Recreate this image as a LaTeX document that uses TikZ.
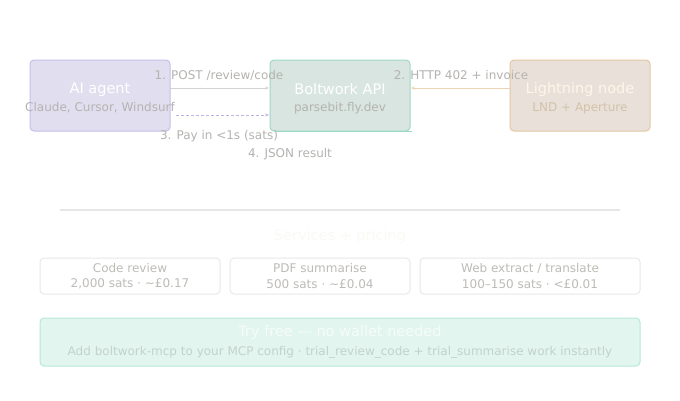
\documentclass[tikz,border=0pt]{standalone}
\usepackage{fontspec}
\setmainfont{DejaVu Sans}
\usetikzlibrary{arrows.meta}
\definecolor{agentfill}{HTML}{E1DEEF}
\definecolor{agentdraw}{HTML}{C6BEEA}
\definecolor{apifill}{HTML}{D9E5E1}
\definecolor{apidraw}{HTML}{9ED9C2}
\definecolor{lnfill}{HTML}{E9E1D9}
\definecolor{lndraw}{HTML}{E2C9A2}
\definecolor{lntitle}{HTML}{FFF6EA}
\definecolor{lnsub}{HTML}{D2C2A8}
\definecolor{lbl}{HTML}{B5B3B0}
\definecolor{divider}{HTML}{E6E6E6}
\definecolor{svcdraw}{HTML}{E8E8E8}
\definecolor{svctext}{HTML}{BDBCB8}
\definecolor{svchead}{HTML}{FAFAF5}
\definecolor{tryfill}{HTML}{E2F5EE}
\definecolor{trydraw}{HTML}{B5EAD5}
\definecolor{trytext}{HTML}{C3D3CC}
\definecolor{arrgray}{HTML}{D3D3D3}
\definecolor{arrorange}{HTML}{EBD3B3}
\definecolor{arrpurple}{HTML}{BDB4E4}
\tikzset{
  bigbox/.style={rounded corners=4pt, line width=1pt},
  title/.style={font=\fontsize{14.5}{17}\selectfont, text=white},
  sub/.style={font=\fontsize{12}{14}\selectfont, text=lbl},
  lab/.style={font=\fontsize{12}{14}\selectfont, text=lbl},
  svc/.style={rounded corners=4pt, draw=svcdraw, fill=white, line width=1pt},
  svct/.style={font=\fontsize{12}{14}\selectfont, text=svctext},
  arr/.style={-{Stealth[length=4pt,width=3pt]}, line width=1pt},
}
\begin{document}
\begin{tikzpicture}[x=1pt,y=-1pt]
\useasboundingbox[fill=white] (0,0) rectangle (680,400);
% main boxes
\draw[bigbox, fill=agentfill, draw=agentdraw] (30,60) rectangle (170,131);
\node[title] (agentT) at (100,89.5) {AI agent};
\node[sub] (agentS) at (100,108) {Claude, Cursor, Windsurf};

\draw[bigbox, fill=apifill, draw=apidraw] (270,60) rectangle (410,131);
\node[title] (apiT) at (340,89.5) {Boltwork API};
\node[sub] (apiS) at (340,108) {parsebit.fly.dev};

\draw[bigbox, fill=lnfill, draw=lndraw] (510,60) rectangle (650,131);
\node[title, text=lntitle] (lnT) at (580,89.5) {Lightning node};
\node[sub, text=lnsub] (lnS) at (580,108) {LND + Aperture};

% connectors
\coordinate (a1s) at (170,88);
\coordinate (a1e) at (269,88);
\draw[arr, draw=arrgray] (a1s) -- (a1e);
\coordinate (a2s) at (510,88);
\coordinate (a2e) at (411,88);
\draw[arr, draw=arrorange] (a2s) -- (a2e);
\coordinate (a3s) at (176,115);
\coordinate (a3e) at (269,115);
\draw[arr, draw=arrpurple, dash pattern=on 3pt off 2pt] (a3s) -- (a3e);
\coordinate (a4s) at (276,131);
\coordinate (a4e) at (412,131);
\draw[draw=apidraw, line width=1pt] (a4s) -- (a4e);

\node[lab] (l1) at (219,75.5) {1. POST /review/code};
\node[lab] (l2) at (461,75.5) {2. HTTP 402 + invoice};
\node[lab] (l3) at (219,136.5) {3. Pay in <1s (sats)};
\node[lab] (l4) at (290,154.5) {4. JSON result};

% divider
\coordinate (d1) at (60,210);
\coordinate (d2) at (620,210);
\draw[divider, line width=1.6pt] (d1) -- (d2);
\node[font=\fontsize{14.5}{17}\selectfont, text=svchead] (svch) at (340,236) {Services + pricing};

% services
\draw[svc] (40,258) rectangle (220,294);
\node[svct] (s1a) at (130,268.5) {Code review};
\node[svct] (s1b) at (130,284) {2,000 sats · \char"223C£0.17};
\draw[svc] (230,258) rectangle (410,294);
\node[svct] (s2a) at (320,268.5) {PDF summarise};
\node[svct] (s2b) at (320,284) {500 sats · \char"223C£0.04};
\draw[svc] (420,258) rectangle (640,294);
\node[svct] (s3a) at (530,268.5) {Web extract / translate};
\node[svct] (s3b) at (530,284) {100–150 sats · <£0.01};

% try free
\draw[rounded corners=4pt, fill=tryfill, draw=trydraw, line width=1pt] (40,318) rectangle (640,366);
\node[title, text=white!70!tryfill] (tryT) at (340,332.5) {Try free — no wallet needed};
\node[font=\fontsize{12}{14}\selectfont, text=trytext] (tryS) at (340,352.5) {Add boltwork-mcp to your MCP config · trial\_review\_code + trial\_summarise work instantly};
\end{tikzpicture}
\end{document}
